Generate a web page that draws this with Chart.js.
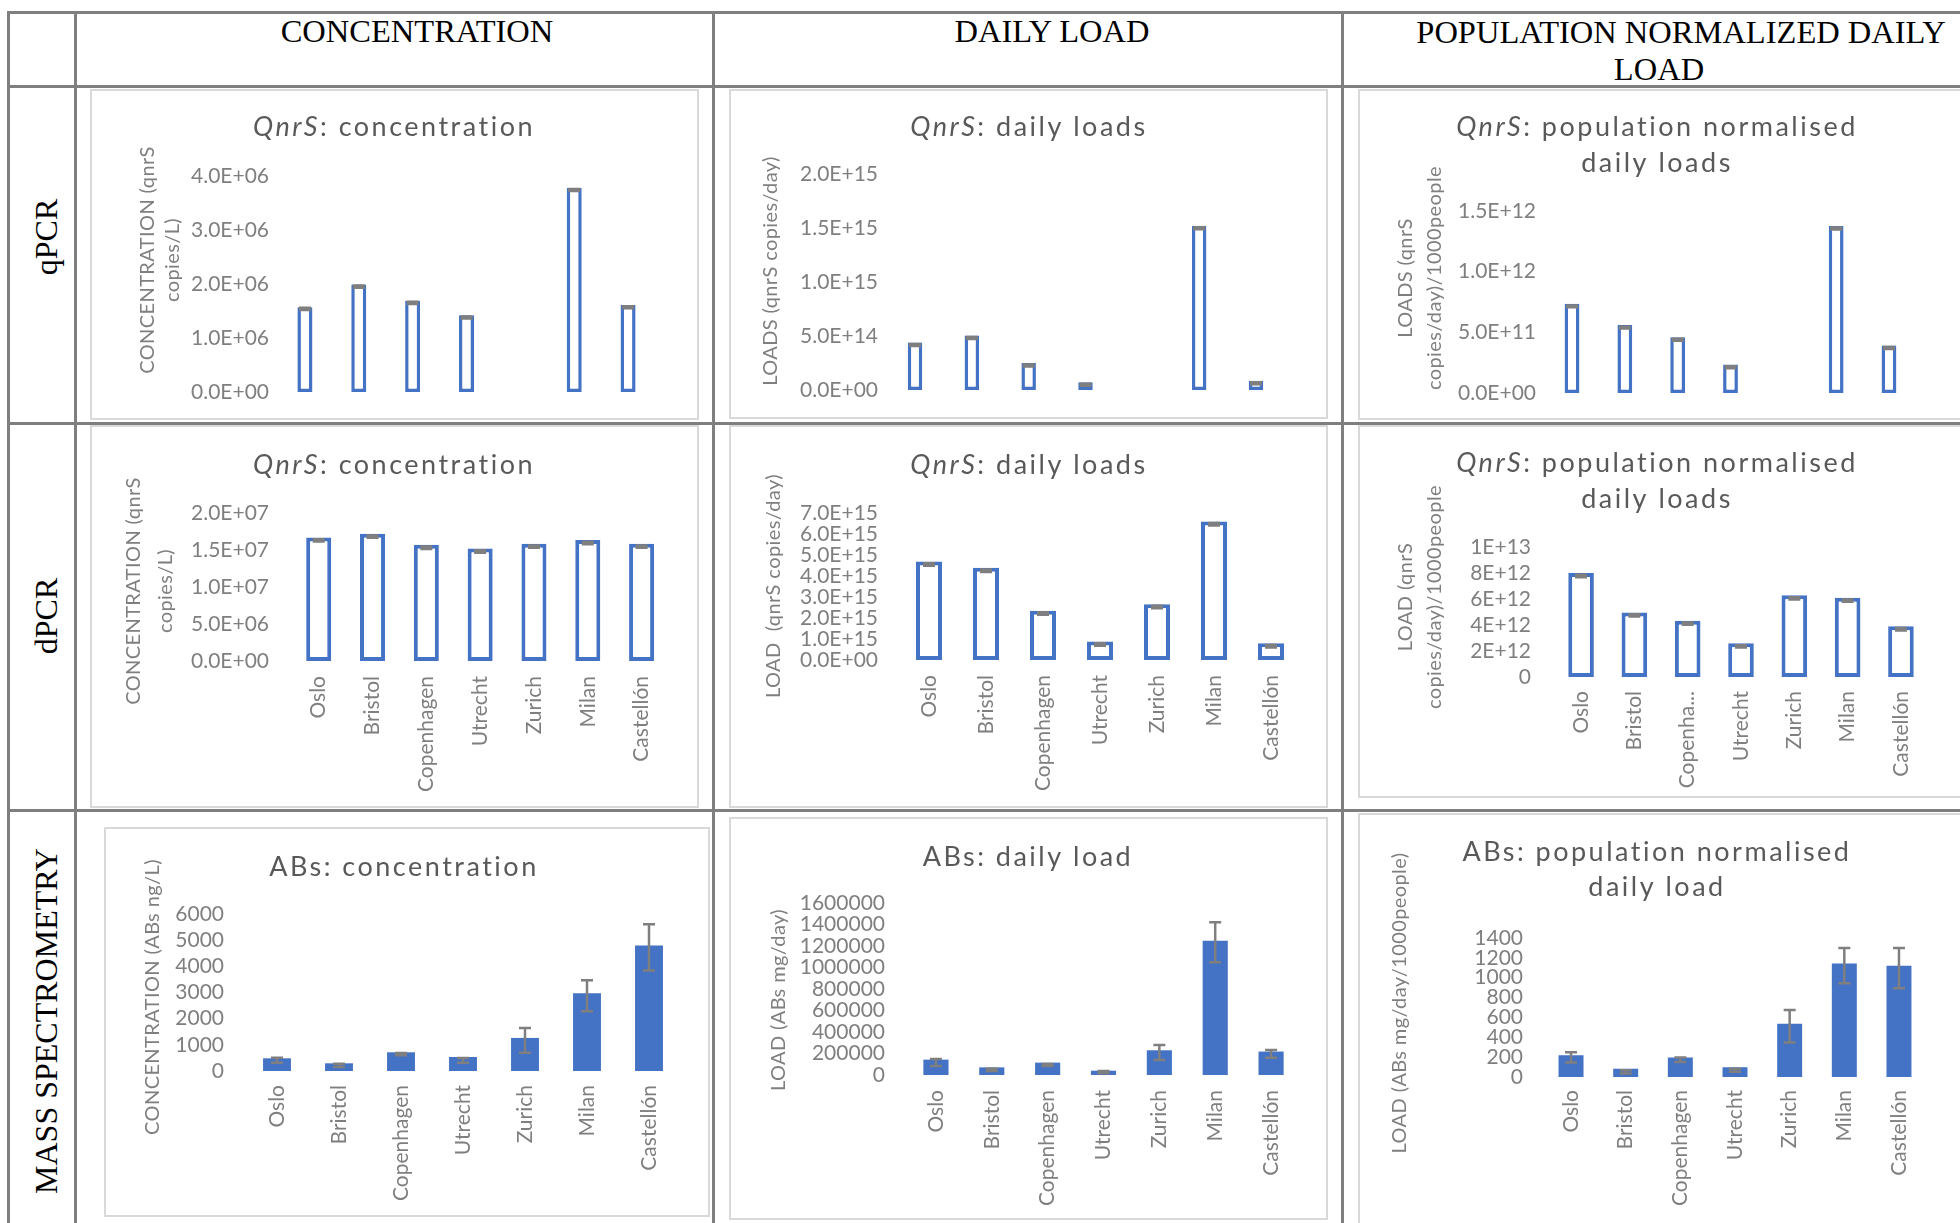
<!DOCTYPE html>
<html><head><meta charset="utf-8">
<script src="https://cdn.jsdelivr.net/npm/chart.js@4.4.1/dist/chart.umd.min.js"></script>
<style>
html,body{margin:0;padding:0;background:#fff;}
body{width:1960px;height:1223px;overflow:hidden;position:relative;}
.ln{position:absolute;background:#7f7f7f;}
.box{position:absolute;border:2px solid #d9d9d9;box-sizing:border-box;background:#fff;}
canvas{position:absolute;}
.hdr{position:absolute;font-family:'Liberation Serif';font-size:32.5px;line-height:1;color:#000;white-space:nowrap;transform:translate(-50%,-50%);}
.rl{position:absolute;font-family:'Liberation Serif';font-size:32px;line-height:1;color:#000;white-space:nowrap;transform:translate(-50%,-50%) rotate(-90deg);}
</style></head>
<body>
<script>
// ---------------- DATA ----------------
const cities = ['Oslo','Bristol','Copenhagen','Utrecht','Zurich','Milan','Castellón'];
const columnHeaders = ['CONCENTRATION','DAILY LOAD','POPULATION NORMALIZED DAILY','LOAD'];
const rowHeaders = ['qPCR','dPCR','MASS SPECTROMETRY'];

// qPCR (QnrS) – Zurich not measured
const qpcrConcentration = [1.57e6, 1.99e6, 1.69e6, 1.42e6, null, 3.78e6, 1.61e6];
const qpcrConcErrLow    = [1.52e6, 1.93e6, 1.63e6, 1.36e6, null, 3.72e6, 1.55e6];
const qpcrConcErrHigh   = [1.56e6, 1.97e6, 1.67e6, 1.40e6, null, 3.76e6, 1.59e6];
const qpcrLoad          = [4.40e14, 5.05e14, 2.50e14, 7.2e13, null, 1.520e15, 8.5e13];
const qpcrLoadErrLow    = [4.08e14, 4.73e14, 2.18e14, 4.0e13, null, 1.488e15, 5.3e13];
const qpcrLoadErrHigh   = [4.26e14, 4.91e14, 2.36e14, 5.8e13, null, 1.506e15, 7.1e13];
const qpcrPopLoad       = [7.35e11, 5.60e11, 4.60e11, 2.34e11, null, 1.376e12, 3.92e11];
const qpcrPopErrLow     = [7.06e11, 5.31e11, 4.31e11, 2.05e11, null, 1.347e12, 3.63e11];
const qpcrPopErrHigh    = [7.22e11, 5.47e11, 4.47e11, 2.21e11, null, 1.363e12, 3.79e11];

// dPCR (QnrS)
const dpcrConcentration = [1.670e7, 1.720e7, 1.570e7, 1.520e7, 1.585e7, 1.635e7, 1.585e7];
const dpcrConcErrLow    = [1.614e7, 1.664e7, 1.514e7, 1.464e7, 1.529e7, 1.579e7, 1.529e7];
const dpcrConcErrHigh   = [1.646e7, 1.696e7, 1.546e7, 1.496e7, 1.561e7, 1.611e7, 1.561e7];
const dpcrLoad          = [4.69e15, 4.39e15, 2.35e15, 8.8e14, 2.66e15, 6.60e15, 8.0e14];
const dpcrLoadErrLow    = [4.49e15, 4.19e15, 2.15e15, 6.8e14, 2.46e15, 6.40e15, 6.0e14];
const dpcrLoadErrHigh   = [4.61e15, 4.31e15, 2.27e15, 8.0e14, 2.58e15, 6.52e15, 7.2e14];
const dpcrPopLoad       = [8.00e12, 4.97e12, 4.33e12, 2.59e12, 6.28e12, 6.10e12, 3.90e12];
const dpcrPopErrLow     = [7.68e12, 4.65e12, 4.01e12, 2.27e12, 5.96e12, 5.78e12, 3.58e12];
const dpcrPopErrHigh    = [7.86e12, 4.83e12, 4.19e12, 2.45e12, 6.14e12, 5.96e12, 3.76e12];

// Mass spectrometry (ABs)
const absConcentration  = [485, 294, 715, 536, 1264, 2974, 4800];
const absConcErrLow     = [319, 153, 600, 319, 702, 2285, 3843];
const absConcErrHigh    = [510, 281, 690, 498, 1647, 3472, 5604];
const absLoad           = [143000, 71000, 115000, 40000, 230000, 1249000, 218000];
const absLoadErrLow     = [84000, 37000, 84000, 15500, 140000, 1050000, 161500];
const absLoadErrHigh    = [149000, 59000, 102500, 37000, 279600, 1420000, 233000];
const absPopLoad        = [219, 84, 196, 98, 536, 1144, 1120];
const absPopErrLow      = [145, 34, 152, 54, 347, 945, 894];
const absPopErrHigh     = [250, 67, 196, 84, 675, 1299, 1299];

// tick labels
const ticksQpcrConc = ['0.0E+00','1.0E+06','2.0E+06','3.0E+06','4.0E+06'];
const ticksQpcrLoad = ['0.0E+00','5.0E+14','1.0E+15','1.5E+15','2.0E+15'];
const ticksQpcrPop  = ['0.0E+00','5.0E+11','1.0E+12','1.5E+12'];
const ticksDpcrConc = ['0.0E+00','5.0E+06','1.0E+07','1.5E+07','2.0E+07'];
const ticksDpcrLoad = ['0.0E+00','1.0E+15','2.0E+15','3.0E+15','4.0E+15','5.0E+15','6.0E+15','7.0E+15'];
const ticksDpcrPop  = ['0','2E+12','4E+12','6E+12','8E+12','1E+13'];
const ticksAbsConc  = ['0','1000','2000','3000','4000','5000','6000'];
const ticksAbsLoad  = ['0','200000','400000','600000','800000','1000000','1200000','1400000','1600000'];
const ticksAbsPop   = ['0','200','400','600','800','1000','1200','1400'];

// ---------------- LAYOUT / STYLE ----------------
const BLUE = '#4472C4', GRAY = '#7f7f7f';
function el(cls, css, text){ const d=document.createElement('div'); d.className=cls; Object.assign(d.style,css); if(text!=null) d.textContent=text; document.body.appendChild(d); return d; }

// table grid
[12,86,423,810].forEach(y=>el('ln',{left:'7px',top:(y-1.5)+'px',width:'1960px',height:'3px'}));
[8,75,713,1342].forEach(x=>el('ln',{left:(x-1.5)+'px',top:'10.5px',width:'3px',height:'1220px'}));

// headers
el('hdr',{left:'417px',top:'31px'},columnHeaders[0]);
el('hdr',{left:'1052px',top:'31px'},columnHeaders[1]);
el('hdr',{left:'1681px',top:'32px'},columnHeaders[2]);
el('hdr',{left:'1659px',top:'69px'},columnHeaders[3]);
el('rl',{left:'46px',top:'237px'},rowHeaders[0]);
el('rl',{left:'46px',top:'616px'},rowHeaders[1]);
el('rl',{left:'46px',top:'1021px'},rowHeaders[2]);

// plugins
const richTitle = {
  id:'richTitle',
  afterDraw(chart, args, o){
    const ctx=chart.ctx; ctx.save();
    ctx.fillStyle=o.color; ctx.textBaseline='middle'; ctx.textAlign='left';
    if('letterSpacing' in ctx) ctx.letterSpacing=o.spacing+'px';
    o.lines.forEach((segs,li)=>{
      const fonts=segs.map(s=>(s.italic?'italic ':'')+o.size+'px '+o.family);
      const w=segs.map((s,k)=>{ctx.font=fonts[k];return ctx.measureText(s.text).width;});
      let x=o.x-w.reduce((a,b)=>a+b,0)/2;
      segs.forEach((s,k)=>{ctx.font=fonts[k];ctx.fillText(s.text,x,o.ys[li]);x+=w[k];});
    });
    ctx.restore();
  }
};
const yTitle = {
  id:'yTitle',
  afterDraw(chart, args, o){
    const ctx=chart.ctx; ctx.save();
    ctx.fillStyle=o.color; ctx.font=o.size+'px '+o.family; ctx.textAlign='center'; ctx.textBaseline='middle';
    if('letterSpacing' in ctx) ctx.letterSpacing=o.spacing+'px';
    o.lines.forEach((t,i)=>{ ctx.save(); ctx.translate(o.xs[i],o.cy); ctx.rotate(-Math.PI/2); ctx.fillText(t,0,0); ctx.restore(); });
    ctx.restore();
  }
};
const errBars = {
  id:'errBars',
  afterDatasetsDraw(chart, args, o){
    const ctx=chart.ctx, meta=chart.getDatasetMeta(0), ys=chart.scales.y;
    ctx.save(); ctx.strokeStyle=GRAY; ctx.lineWidth=o.width;
    o.low.forEach((lo,i)=>{
      const hi=o.high[i]; if(lo==null||hi==null) return;
      const x=meta.data[i].x, y1=ys.getPixelForValue(hi), y2=ys.getPixelForValue(lo), c=o.cap/2;
      ctx.beginPath();
      ctx.moveTo(x,y1); ctx.lineTo(x,y2);
      ctx.moveTo(x-c,y1); ctx.lineTo(x+c,y1);
      ctx.moveTo(x-c,y2); ctx.lineTo(x+c,y2);
      ctx.stroke();
    });
    ctx.restore();
  }
};

const QT = ()=>({text:'QnrS',italic:true});
const specs = [
  {box:{x:90,y:89,w:609,h:331}, plot:{l:278,r:655,t:176,b:392}, values:qpcrConcentration, low:qpcrConcErrLow, high:qpcrConcErrHigh,
   max:4e6, step:1e6, ticks:ticksQpcrConc, yPad:9, bp:0.279, bw:3.5, fill:'#fff', showX:false,
   title:{x:394, ys:[127], lines:[[QT(),{text:': concentration'}]]},
   yt:{lines:['CONCENTRATION (qnrS','copies/L)'], xs:[148,173], cy:260}},
  {box:{x:729,y:89,w:599,h:330}, plot:{l:886.6,r:1284.4,t:174,b:390}, values:qpcrLoad, low:qpcrLoadErrLow, high:qpcrLoadErrHigh,
   max:2e15, step:5e14, ticks:ticksQpcrLoad, yPad:8.6, bp:0.255, bw:3.5, fill:'#fff', showX:false,
   title:{x:1029, ys:[127], lines:[[QT(),{text:': daily loads'}]]},
   yt:{lines:['LOADS (qnrS copies/day)'], xs:[771], cy:271}},
  {box:{x:1358,y:89,w:617,h:331}, plot:{l:1545.6,r:1915.4,t:211,b:393}, values:qpcrPopLoad, low:qpcrPopErrLow, high:qpcrPopErrHigh,
   max:1.5e12, step:5e11, ticks:ticksQpcrPop, yPad:9.6, bp:0.28, bw:3.5, fill:'#fff', showX:false,
   title:{x:1657, ys:[127,163], lines:[[QT(),{text:': population normalised'}],[{text:'daily loads'}]]},
   yt:{lines:['LOADS (qnrS','copies/day)/1000people'], xs:[1406,1435], cy:278}},
  {box:{x:90,y:425,w:609,h:383}, plot:{l:291.8,r:668.5,t:513,b:661}, values:dpcrConcentration, low:dpcrConcErrLow, high:dpcrConcErrHigh,
   max:2e7, step:5e6, ticks:ticksDpcrConc, yPad:22.8, bp:0.465, bw:4, fill:'#fff', showX:true, xPad:15,
   title:{x:394, ys:[465], lines:[[QT(),{text:': concentration'}]]},
   yt:{lines:['CONCENTRATION (qnrS','copies/L)'], xs:[134,166], cy:591}},
  {box:{x:729,y:425,w:599,h:383}, plot:{l:900.5,r:1299.5,t:513,b:660}, values:dpcrLoad, low:dpcrLoadErrLow, high:dpcrLoadErrHigh,
   max:7e15, step:1e15, ticks:ticksDpcrLoad, yPad:22.5, bp:0.456, bw:4, fill:'#fff', showX:true, xPad:15,
   title:{x:1029, ys:[465], lines:[[QT(),{text:': daily loads'}]]},
   yt:{lines:['LOAD  (qnrS copies/day)'], xs:[774], cy:586}},
  {box:{x:1358,y:425,w:617,h:373}, plot:{l:1554.4,r:1927.6,t:547,b:677}, values:dpcrPopLoad, low:dpcrPopErrLow, high:dpcrPopErrHigh,
   max:1e13, step:2e12, ticks:ticksDpcrPop, yPad:23.4, bp:0.48, bw:4, fill:'#fff', showX:true, xPad:14, truncate:9,
   title:{x:1657, ys:[463,499], lines:[[QT(),{text:': population normalised'}],[{text:'daily loads'}]]},
   yt:{lines:['LOAD (qnrS','copies/day)/1000people'], xs:[1406,1435], cy:597}},
  {box:{x:104,y:827,w:606,h:390}, plot:{l:246,r:680,t:914,b:1071}, values:absConcentration, low:absConcErrLow, high:absConcErrHigh,
   max:6000, step:1000, ticks:ticksAbsConc, yPad:22, bp:0.45, bw:0, fill:BLUE, showX:true, xPad:14,
   title:{x:404, ys:[867], lines:[[{text:'ABs: concentration'}]]},
   yt:{lines:['CONCENTRATION (ABs ng/L)'], xs:[153], cy:997}},
  {box:{x:729,y:817,w:599,h:403}, plot:{l:908,r:1299,t:903,b:1075}, values:absLoad, low:absLoadErrLow, high:absLoadErrHigh,
   max:1.6e6, step:2e5, ticks:ticksAbsLoad, yPad:23, bp:0.45, bw:0, fill:BLUE, showX:true, xPad:15,
   title:{x:1028, ys:[857], lines:[[{text:'ABs: daily load'}]]},
   yt:{lines:['LOAD (ABs mg/day)'], xs:[779], cy:1000}},
  {box:{x:1358,y:813,w:617,h:412}, plot:{l:1543.7,r:1926.3,t:938,b:1077}, values:absPopLoad, low:absPopErrLow, high:absPopErrHigh,
   max:1400, step:200, ticks:ticksAbsPop, yPad:20.7, bp:0.457, bw:0, fill:BLUE, showX:true, xPad:13,
   title:{x:1657, ys:[852,887], lines:[[{text:'ABs: population normalised'}],[{text:'daily load'}]]},
   yt:{lines:['LOAD (ABs mg/day/1000people)'], xs:[1400], cy:1003}}
];

const FONT='Lato';
specs.forEach(s=>{
  const b=s.box;
  el('box',{left:b.x+'px',top:b.y+'px',width:b.w+'px',height:b.h+'px'});
  const cv=document.createElement('canvas');
  cv.width=b.w; cv.height=b.h; cv.style.left=b.x+'px'; cv.style.top=b.y+'px';
  document.body.appendChild(cv);
  const yW=s.plot.l-b.x, xH=b.y+b.h-s.plot.b;
  new Chart(cv,{
    type:'bar',
    data:{labels:cities, datasets:[{data:s.values, backgroundColor:s.fill, borderColor:BLUE, borderWidth:s.bw, borderSkipped:false,
      barPercentage:s.bp, categoryPercentage:1}]},
    options:{
      responsive:false, animation:false, devicePixelRatio:1,
      layout:{padding:{left:0, right:b.x+b.w-s.plot.r, top:s.plot.t-b.y, bottom:0}},
      plugins:{
        legend:{display:false}, tooltip:{enabled:false}, title:{display:false},
        richTitle:{x:s.title.x-b.x, ys:s.title.ys.map(v=>v-b.y), lines:s.title.lines, family:FONT, size:27, spacing:2.5, color:'#595959'},
        yTitle:{lines:s.yt.lines, xs:s.yt.xs.map(v=>v-b.x), cy:s.yt.cy-b.y, family:FONT, size:20, spacing:0.4, color:GRAY},
        errBars:{low:s.low, high:s.high, cap:12, width:2.5}
      },
      scales:{
        x:{grid:{display:false, drawTicks:false}, border:{display:false},
           ticks:{display:s.showX, autoSkip:false, minRotation:90, maxRotation:90, padding:s.xPad||0, color:GRAY,
             font:{family:FONT, size:21},
             callback:function(v,i){ const t=cities[i]; return (s.truncate && t.length>s.truncate)? t.slice(0,7)+'...' : t; }},
           afterFit:sc=>{sc.height=xH;}},
        y:{min:0, max:s.max, grid:{display:false, drawTicks:false}, border:{display:false},
           ticks:{stepSize:s.step, autoSkip:false, padding:s.yPad, color:GRAY, font:{family:FONT, size:21},
             callback:v=>s.ticks[Math.round(v/s.step)]},
           afterFit:sc=>{sc.width=yW;}}
      }
    },
    plugins:[richTitle,yTitle,errBars]
  });
});
</script>
</body></html>
